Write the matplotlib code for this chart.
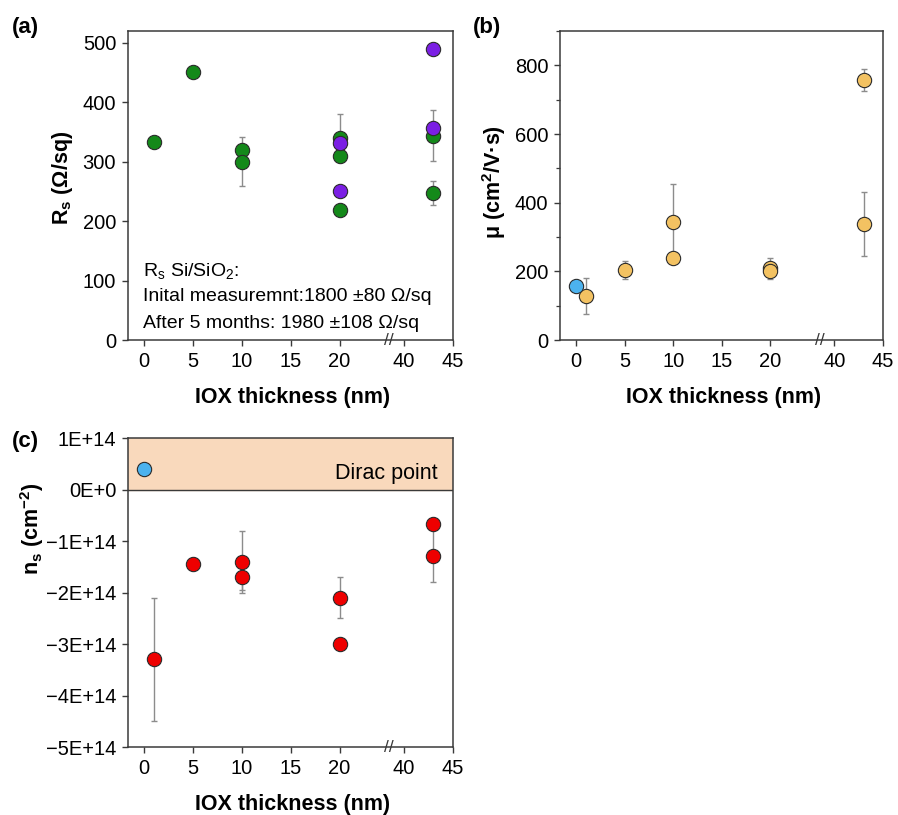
import numpy as np
import matplotlib
matplotlib.use("Agg")
import matplotlib.pyplot as plt
from matplotlib.ticker import MultipleLocator
import matplotlib.transforms as mtransforms

plt.rcParams['font.family'] = ['Liberation Sans', 'DejaVu Sans']
plt.rcParams['mathtext.fontset'] = 'custom'
plt.rcParams['mathtext.rm'] = 'Liberation Sans'
plt.rcParams['mathtext.bf'] = 'Liberation Sans:bold'

# ---- data ----
x_ticks = [0, 5, 10, 15, 20, 40, 45]

# (a) sheet resistance, Ohm/sq
rs_green_x = [1, 5, 10, 10, 20, 20, 20, 43, 43]
rs_green = [334, 451, 320, 300, 340, 309, 218, 344, 247]
rs_green_err = [5, 0, 5, 41, 40, 5, 0, 43, 20]
rs_purple_x = [20, 20, 43, 43]
rs_purple = [331, 250, 490, 357]

# (b) mobility, cm2/Vs
mu_ref_x = [0]
mu_ref = [158]
mu_ref_err = [10]
mu_x = [1, 5, 10, 10, 20, 20, 43, 43]
mu = [129, 204, 343, 240, 209, 202, 758, 337]
mu_err = [52, 27, 112, 15, 30, 10, 32, 93]

# (c) carrier density, cm-2
ns_ref_x = [0]
ns_ref = [0.39e14]
ns_x = [1, 5, 10, 10, 20, 20, 43, 43]
ns = [-3.3e14, -1.44e14, -1.4e14, -1.7e14, -2.1e14, -3.0e14, -0.67e14, -1.29e14]
ns_err = [1.2e14, 0.12e14, 0.6e14, 0.25e14, 0.4e14, 0, 0.05e14, 0.5e14]
ns_ticks = [1e14, 0, -1e14, -2e14, -3e14, -4e14, -5e14]
ns_ticklabels = ['1E+14', '0E+0', '\u22121E+14', '\u22122E+14', '\u22123E+14',
                 '\u22124E+14', '\u22125E+14']

# broken x axis: 25..38.5 squeezed to almost nothing
B0, B1, GAP = 25.0, 38.5, 0.1


def fwd(x):
    x = np.asarray(x, dtype=float)
    return np.where(x <= B0, x,
                    np.where(x >= B1, x - (B1 - B0) + GAP,
                             B0 + (x - B0) * GAP / (B1 - B0)))


def inv(y):
    y = np.asarray(y, dtype=float)
    return np.where(y <= B0, y,
                    np.where(y >= B0 + GAP, y + (B1 - B0) - GAP,
                             B0 + (y - B0) * (B1 - B0) / GAP))


EDGE = '#2b2b2b'
SPINE = '#3a3a3a'
ERR = '#8c8c8c'
MS = 10.3
TICK_FS = 14.5
LAB_FS = 15.5


def style_axes(ax):
    ax.set_xscale('function', functions=(fwd, inv))
    ax.set_xlim(-1.66, 45)
    ax.set_xticks(x_ticks)
    ax.set_xticklabels([str(t) for t in x_ticks])
    for s in ax.spines.values():
        s.set_color(SPINE)
        s.set_linewidth(1.1)
    ax.tick_params(which='major', direction='out', length=4.5, width=1.0,
                   color=SPINE, labelsize=TICK_FS, pad=4)
    ax.tick_params(which='minor', direction='out', length=2.8, width=0.9, color=SPINE)
    ax.tick_params(axis='x', which='minor', bottom=False)
    # break mark
    trans = mtransforms.blended_transform_factory(ax.transData, ax.transAxes)
    ax.text((B0 + B1) / 2, 0.0, '//', transform=trans, ha='center', va='center',
            fontsize=12.5, color=SPINE, clip_on=False)
    ax.set_xlabel('IOX thickness (nm)', fontsize=LAB_FS, fontweight='bold')


def dots(ax, x, y, err, color, z=3):
    if err is not None:
        ax.errorbar(x, y, yerr=err, fmt='none', ecolor=ERR, elinewidth=1.0,
                    capsize=2.2, capthick=1.0, zorder=z - 1)
    ax.plot(x, y, 'o', ms=MS, mfc=color, mec=EDGE, mew=0.8, ls='none', zorder=z)


fig = plt.figure(figsize=(8.98, 8.15), dpi=100)
ax_a = fig.add_axes([0.1425, 0.5828, 0.3619, 0.3791])
ax_b = fig.add_axes([0.6236, 0.5828, 0.3597, 0.3791])
ax_c = fig.add_axes([0.1425, 0.0834, 0.3619, 0.3791])

# (a)
style_axes(ax_a)
dots(ax_a, rs_green_x, rs_green, rs_green_err, '#14891a')
dots(ax_a, rs_purple_x, rs_purple, None, '#7b1fe4', z=4)
ax_a.set_ylim(0, 520)
ax_a.set_yticks(np.arange(0, 501, 100))
ax_a.set_ylabel(r'R$_{\mathregular{s}}$ (Ω/sq)', fontsize=LAB_FS, fontweight='bold')
ax_a.text(0.046, 0.205, r'R$_{\mathregular{s}}$ Si/SiO$_{\mathregular{2}}$:',
          transform=ax_a.transAxes, fontsize=14, va='baseline')
ax_a.text(0.046, 0.126, 'Inital measuremnt:1800 ±80 Ω/sq',
          transform=ax_a.transAxes, fontsize=14, va='baseline')
ax_a.text(0.046, 0.038, 'After 5 months: 1980 ±108 Ω/sq',
          transform=ax_a.transAxes, fontsize=14, va='baseline')

# (b)
style_axes(ax_b)
dots(ax_b, mu_x, mu, mu_err, '#f3c262')
dots(ax_b, mu_ref_x, mu_ref, mu_ref_err, '#4cb2ee', z=5)
ax_b.set_ylim(0, 900)
ax_b.set_yticks(np.arange(0, 801, 200))
ax_b.yaxis.set_minor_locator(MultipleLocator(100))
ax_b.set_ylabel(r'μ (cm$^{\mathregular{2}}$/V·s)', fontsize=LAB_FS, fontweight='bold')

# (c)
style_axes(ax_c)
ax_c.axhspan(0, 1e14, color='#f9d9bc', zorder=0)
ax_c.axhline(0, color=SPINE, lw=1.0, zorder=1)
dots(ax_c, ns_x, ns, ns_err, '#ee0000')
dots(ax_c, ns_ref_x, ns_ref, None, '#4cb2ee')
ax_c.set_ylim(-5e14, 1e14)
ax_c.set_yticks(ns_ticks)
ax_c.set_yticklabels(ns_ticklabels)
ax_c.set_ylabel(r'n$_{\mathregular{s}}$ (cm$^{\mathregular{-2}}$)', fontsize=LAB_FS,
                fontweight='bold')
ax_c.text(0.954, 0.867, 'Dirac point', transform=ax_c.transAxes, ha='right',
          va='baseline', fontsize=15.5)

# label placement
for ax, xl, yl in [(ax_a, -0.2, 0.524), (ax_b, -0.204, 0.51), (ax_c, -0.295, 0.705)]:
    ax.yaxis.set_label_coords(xl, yl)
    ax.yaxis.label.set_va('center')
for ax in (ax_a, ax_b, ax_c):
    ax.xaxis.set_label_coords(0.505, -0.185)
    ax.xaxis.label.set_va('center')

fig.text(12 / 898, 1 - 28 / 815, '(a)', fontsize=16, fontweight='bold', va='center')
fig.text(473 / 898, 1 - 28 / 815, '(b)', fontsize=16, fontweight='bold', va='center')
fig.text(12 / 898, 1 - 442 / 815, '(c)', fontsize=16, fontweight='bold', va='center')

fig.savefig('out.png', dpi=100)
